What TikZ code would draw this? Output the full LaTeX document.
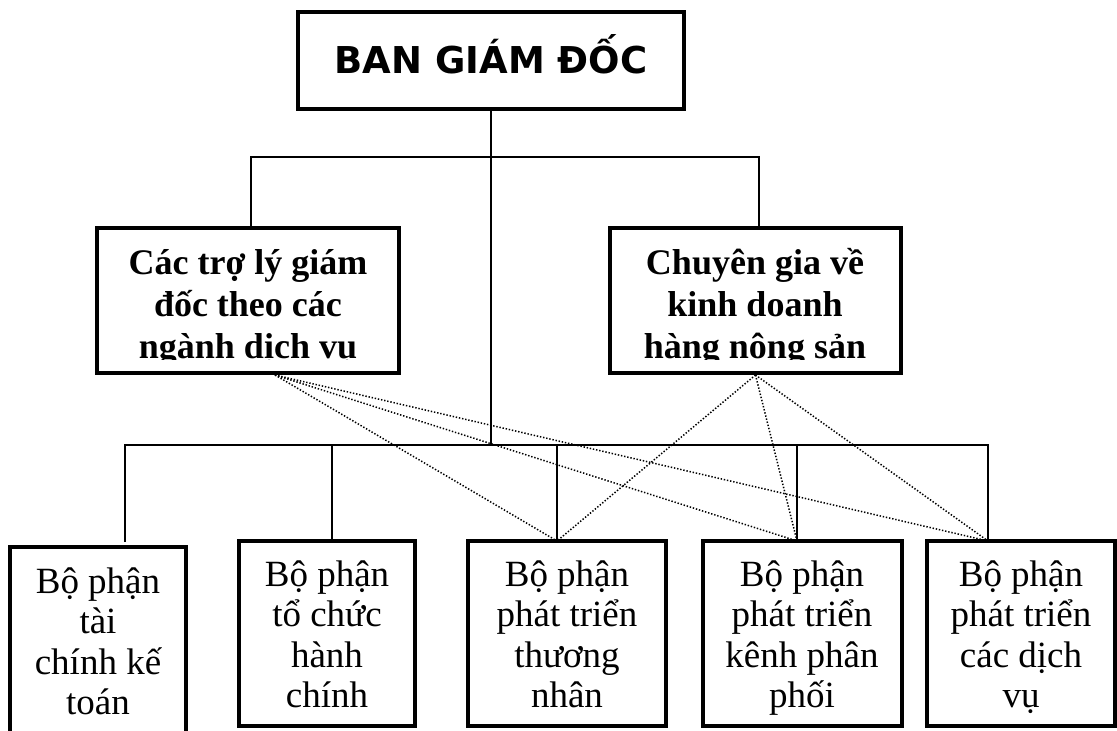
\documentclass[tikz,border=0pt]{standalone}
\usepackage{fontspec}
\setmainfont{Liberation Serif}
\newfontfamily\heavysans{DejaVu Sans}
\begin{document}
\begin{tikzpicture}[x=1pt,y=-1pt,
  box/.style={draw, line width=3.5pt, inner sep=0pt, outer sep=0pt, anchor=north west},
  link/.style={line width=1.3pt},
  dotline/.style={line width=1.5pt, dash pattern=on 1.4pt off 1.8pt},
  toptext/.style={font=\heavysans\bfseries\fontsize{37}{44}\selectfont, anchor=base, inner sep=0pt},
  midtext/.style={font=\bfseries\fontsize{36}{42}\selectfont, anchor=base, inner sep=0pt},
  lowtext/.style={font=\fontsize{37}{40.5}\selectfont, anchor=base, inner sep=0pt}]
\useasboundingbox (0,0) rectangle (1117,731);

% top box
\node[box, minimum width=386pt, minimum height=97pt] (ban) at (298,12) {};
\node[toptext] (bantext) at (491,73) {BAN GIÁM ĐỐC};

% middle boxes
\node[box, minimum width=302pt, minimum height=145pt] (m1) at (97,228) {};
\node[box, minimum width=291pt, minimum height=145pt] (m2) at (610,228) {};
\begin{scope}
  \clip (m1.north west) rectangle ([yshift=14pt]m1.south east);
  \node[midtext] (m1text) at (248,274) {\begin{tabular}[t]{@{}c@{}}Các trợ lý giám\\đốc theo các\\ngành dịch vụ\end{tabular}};
\end{scope}
\begin{scope}
  \clip (m2.north west) rectangle ([yshift=14pt]m2.south east);
  \node[midtext] (m2text) at (755,274) {\begin{tabular}[t]{@{}c@{}}Chuyên gia về\\kinh doanh\\hàng nông sản\end{tabular}};
\end{scope}

% bottom boxes
\node[box, minimum width=176pt, minimum height=220pt] (b1) at (10,547) {};
\node[box, minimum width=176pt, minimum height=185pt] (b2) at (239,541) {};
\node[box, minimum width=198pt, minimum height=185pt] (b3) at (468,541) {};
\node[box, minimum width=199pt, minimum height=185pt] (b4) at (703,541) {};
\node[box, minimum width=188pt, minimum height=185pt] (b5) at (927,541) {};
\node[lowtext] (b1text) at (98,593) {\begin{tabular}[t]{@{}c@{}}Bộ phận\\tài\\chính kế\\toán\end{tabular}};
\node[lowtext] (b2text) at (327,586) {\begin{tabular}[t]{@{}c@{}}Bộ phận\\tổ chức\\hành\\chính\end{tabular}};
\node[lowtext] (b3text) at (567,586) {\begin{tabular}[t]{@{}c@{}}Bộ phận\\phát triển\\thương\\nhân\end{tabular}};
\node[lowtext] (b4text) at (802,586) {\begin{tabular}[t]{@{}c@{}}Bộ phận\\phát triển\\kênh phân\\phối\end{tabular}};
\node[lowtext] (b5text) at (1021,586) {\begin{tabular}[t]{@{}c@{}}Bộ phận\\phát triển\\các dịch\\vụ\end{tabular}};

% junction coordinates
\coordinate (busA) at (491,157);
\coordinate (busB) at (491,445);
\coordinate (a1) at ([xshift=3pt]m1.north);
\coordinate (a2) at ([xshift=3.5pt]m2.north);
\coordinate (e1) at ([xshift=27pt,yshift=5pt]b1.north);
\coordinate (e2) at ([xshift=5pt]b2.north);
\coordinate (e3) at ([xshift=-10pt]b3.north);
\coordinate (e4) at ([xshift=-5.5pt]b4.north);
\coordinate (e5) at ([xshift=-33pt]b5.north);
\coordinate (d1) at ([xshift=27pt,yshift=-2pt]m1.south);
\coordinate (d2) at ([yshift=-2pt]m2.south);

% solid connectors
\draw[link] (ban.south) -- (busB);
\draw[link] (a1) |- (busA) -| (a2);
\draw[link] (e1) |- (busB) -| (e5);
\draw[link] (e2) -- (e2 |- busB);
\draw[link] (e3) -- (e3 |- busB);
\draw[link] (e4) -- (e4 |- busB);

% dotted connectors
\draw[dotline] (d1) -- (e3);
\draw[dotline] (d1) -- (e4);
\draw[dotline] (d1) -- (e5);
\draw[dotline] (d2) -- (e3);
\draw[dotline] (d2) -- (e4);
\draw[dotline] (d2) -- (e5);
\end{tikzpicture}
\end{document}
